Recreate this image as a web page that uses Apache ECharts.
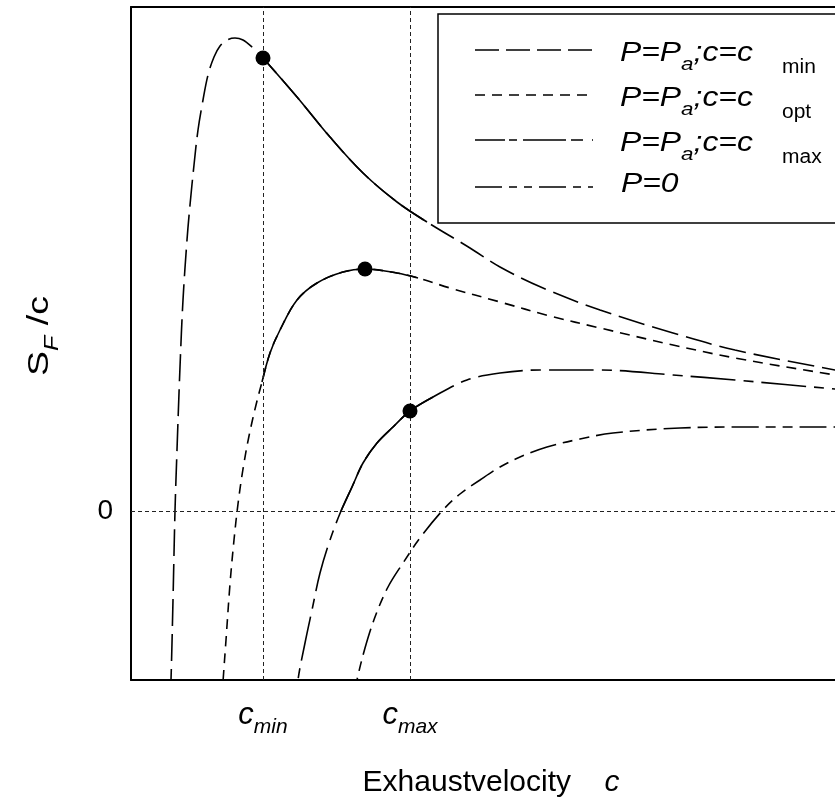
<!DOCTYPE html>
<html>
<head>
<meta charset="utf-8">
<script src="https://cdn.jsdelivr.net/npm/echarts@6/dist/echarts.min.js"></script>
<style>
html,body{margin:0;padding:0;background:#fff;}
#chart{width:835px;height:803px;}
</style>
</head>
<body>
<div id="chart"></div>
<script>
// ---- data (x = exhaust velocity, y = S_F/c, arbitrary units) ----
const cMin = 13.2;
const cMax = 27.9;
const xTickValues = [cMin, cMax];
const xTickNames = ['min', 'max'];
const yTickValues = [0];

const curveMinX = [3.8, 4.0, 4.2, 4.4, 4.6, 4.9, 5.2, 5.6, 5.9, 6.3, 6.7, 7.2, 7.7, 8.3, 8.9, 9.6, 10.4, 11.2, 12.1, 13.2, 16.6, 19.9, 23.2, 26.6, 29.6, 33.9, 36.9, 41.2, 46.9, 54.2, 60.4, 70.4, 74.4];
const curveMinY = [-22, -16.9, -8.9, 0, 6.1, 14.4, 21.1, 27.1, 30.6, 34.6, 38.1, 41.1, 43.6, 45.4, 46.5, 47.1, 47.3, 47.1, 46.4, 45.3, 41.4, 37.4, 33.8, 30.9, 28.9, 26.3, 24.4, 22.3, 20.1, 17.8, 16.1, 14.1, 13.4];

const curveOptX = [8.9, 9.2, 9.5, 9.9, 10.3, 10.7, 11.2, 11.8, 12.5, 13.1, 13.9, 14.9, 16.6, 18.6, 21.2, 23.4, 26.6, 28.7, 31.9, 36.9, 41.9, 46.9, 54.2, 60.4, 70.4, 74.4];
const curveOptY = [-22, -17.1, -12.9, -7.3, -2.9, 0.7, 4.2, 7.5, 10.6, 12.9, 15.8, 18.1, 21.1, 22.8, 23.9, 24.2, 23.8, 23.3, 22.3, 20.9, 19.5, 18.3, 16.6, 15.3, 13.6, 13.0];

const curveMaxX = [16.2, 16.7, 17.4, 18.1, 18.9, 19.9, 21.0, 22.1, 23.2, 24.6, 26.2, 27.9, 30.2, 33.6, 36.9, 40.9, 46.9, 54.2, 60.4, 70.4, 74.4];
const curveMaxY = [-22, -16.9, -13.2, -9.9, -6.2, -2.9, 0, 2.4, 4.8, 6.8, 8.4, 10.0, 11.4, 13.1, 13.8, 14.1, 14.1, 13.6, 13.1, 12.2, 11.9];

const curveP0X = [21.8, 22.6, 23.4, 24.4, 25.7, 27.2, 28.9, 31.1, 32.9, 34.9, 36.9, 38.9, 41.6, 44.9, 48.2, 54.9, 61.6, 70.4, 74.4];
const curveP0Y = [-21, -16.9, -13.7, -10.6, -7.6, -5.2, -2.7, 0, 1.7, 3.1, 4.4, 5.4, 6.4, 7.2, 7.8, 8.3, 8.4, 8.4, 8.4];

// solid (valid) ranges along each P=Pa curve
const solidMin = [13.2, 29.6];
const solidOpt = [13.1, 28.7];
const solidMax = [21.0, 30.2];

// optimum points (dots)
const dotX = [13.2, 23.4, 27.9];
const dotY = [45.3, 24.2, 10.0];

const legendNames = ['min', 'opt', 'max'];

// ---- helpers ----
function pairs(xs, ys) { return xs.map((x, i) => [x, ys[i]]); }
function segment(xs, ys, r) { return pairs(xs, ys).filter(p => p[0] >= r[0] - 1e-9 && p[0] <= r[1] + 1e-9); }

const FONT = 'Liberation Sans, Arial, sans-serif';
const lw = 1.6;

function curve(name, data, dash) {
  return {
    name, type: 'line', data, smooth: 0.35, showSymbol: false, silent: true, clip: true,
    lineStyle: { color: '#000', width: lw, type: dash }, z: 3
  };
}

const chart = echarts.init(document.getElementById('chart'), null, { renderer: 'canvas' });

const option = {
  backgroundColor: '#fff',
  animation: false,
  grid: { left: 131, top: 7, right: 0, bottom: 123 },
  xAxis: [{
    type: 'value', min: 0, max: 70.4,
    splitLine: { show: false },
    axisLine: { show: true, onZero: false, lineStyle: { color: '#000', width: 2 } },
    axisTick: { show: false },
    axisLabel: {
      customValues: xTickValues, margin: 12,
      formatter: function (v) { const i = xTickValues.indexOf(v); return '{c|c}{s|' + xTickNames[i] + '}'; },
      rich: {
        c: { fontFamily: FONT, fontStyle: 'italic', fontSize: 31, color: '#000', lineHeight: 46 },
        s: { fontFamily: FONT, fontStyle: 'italic', fontSize: 21, color: '#000', verticalAlign: 'bottom' }
      }
    }
  }, {
    type: 'value', min: 0, max: 70.4, position: 'top',
    splitLine: { show: false },
    axisLine: { show: true, onZero: false, lineStyle: { color: '#000', width: 2 } },
    axisTick: { show: false }, axisLabel: { show: false }
  }],
  yAxis: {
    type: 'value', min: -16.9, max: 50.4,
    splitLine: { show: false },
    axisLine: { show: true, onZero: false, lineStyle: { color: '#000', width: 2 } },
    axisTick: { show: true, inside: true, length: 4, customValues: yTickValues, lineStyle: { color: '#000' } },
    axisLabel: { customValues: yTickValues, margin: 18, fontFamily: FONT, fontSize: 28, color: '#000' }
  },
  series: [
    {
      type: 'line', data: [], silent: true,
      markLine: {
        silent: true, symbol: 'none', label: { show: false },
        lineStyle: { color: '#222', width: 1, type: [4, 3] },
        data: [{ xAxis: cMin }, { xAxis: cMax }, { yAxis: 0 }]
      }, z: 1
    },
    curve('P=Pa;c=cmin', pairs(curveMinX, curveMinY), [27, 8]),
    curve('P=Pa;c=copt', pairs(curveOptX, curveOptY), [10, 7]),
    curve('P=Pa;c=cmax', pairs(curveMaxX, curveMaxY), [45, 8, 10, 8]),
    curve('P=0', pairs(curveP0X, curveP0Y), [27, 7, 10, 7, 10, 7]),
    curve('solid1', segment(curveMinX, curveMinY, solidMin), 'solid'),
    curve('solid2', segment(curveOptX, curveOptY, solidOpt), 'solid'),
    curve('solid3', segment(curveMaxX, curveMaxY, solidMax), 'solid'),
    {
      type: 'scatter', data: pairs(dotX, dotY), symbol: 'circle', symbolSize: 15, silent: true,
      itemStyle: { color: '#000', opacity: 1 }, z: 5
    }
  ],
  graphic: []
};

// legend box and entries
const legendLineY = [50, 95, 140, 187];
const legendDash = [[24, 7], [10, 7], [30, 4, 8, 6, 43, 5, 12, 9], [27, 7, 8, 7, 8, 7]];
const g = [];
g.push({ type: 'rect', shape: { x: 438, y: 14, width: 500, height: 209 }, style: { fill: '#fff', stroke: '#000', lineWidth: 1.5 }, z: 10 });
legendLineY.forEach((y, i) => {
  g.push({ type: 'line', shape: { x1: 475, y1: y, x2: 593, y2: y }, style: { stroke: '#000', lineWidth: lw, lineDash: legendDash[i] }, z: 11 });
});
const legendRich = {
  m: { fontFamily: FONT, fontStyle: 'italic', fontSize: 27, fill: '#000', lineHeight: 42 },
  s: { fontFamily: FONT, fontStyle: 'italic', fontSize: 19, fill: '#000', verticalAlign: 'bottom' }
};
[0, 1, 2].forEach(i => {
  g.push({ type: 'text', x: 620, y: legendLineY[i] + 3, scaleX: 1.18, z: 11,
    style: { text: '{m|P=P}{s|a}{m|;c=c}', rich: legendRich, align: 'left', verticalAlign: 'middle' } });
  g.push({ type: 'text', x: 782, y: legendLineY[i] + 17, scaleX: 1.05, z: 11,
    style: { text: legendNames[i], font: '20px ' + FONT, fill: '#000', align: 'left', verticalAlign: 'middle' } });
});
g.push({ type: 'text', x: 621, y: legendLineY[3] - 3, scaleX: 1.18, z: 11,
  style: { text: 'P=0', font: 'italic 27px ' + FONT, fill: '#000', align: 'left', verticalAlign: 'middle' } });

// axis titles
g.push({ type: 'text', x: 491, y: 783, z: 11,
  style: { text: '{n|Exhaustvelocity}{n|    }{i|c}', align: 'center', verticalAlign: 'middle',
    rich: { n: { fontFamily: FONT, fontSize: 30, fill: '#000' }, i: { fontFamily: FONT, fontStyle: 'italic', fontSize: 30, fill: '#000' } } } });
g.push({ type: 'text', x: 40, y: 336, rotation: Math.PI / 2, scaleX: 1.25, z: 11,
  style: { text: '{n|S}{s|F}{i| /c}', align: 'center', verticalAlign: 'middle',
    rich: { n: { fontFamily: FONT, fontSize: 30, fill: '#000', lineHeight: 44 }, s: { fontFamily: FONT, fontStyle: 'italic', fontSize: 20, fill: '#000', verticalAlign: 'bottom' }, i: { fontFamily: FONT, fontSize: 30, fill: '#000' } } } });
option.graphic = g;

chart.setOption(option);
</script>
</body>
</html>
